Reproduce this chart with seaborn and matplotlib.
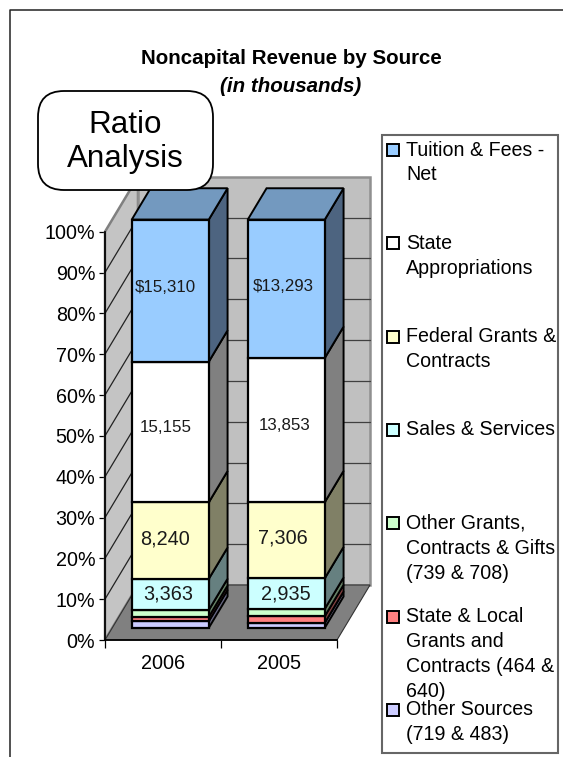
import numpy as np
import pandas as pd
import seaborn as sns
import matplotlib.pyplot as plt
from matplotlib.patches import Polygon, FancyBboxPatch, Rectangle
from matplotlib.transforms import Affine2D

years = ["2006", "2005"]
# stacked bottom to top
sources = [
    "Other Sources", "State & Local", "Other Grants", "Sales & Services",
    "Federal Grants", "State Appropriations", "Tuition & Fees",
]
other_sources = [719, 483]
state_local = [464, 640]
other_grants = [739, 708]
sales_services = [3363, 2935]
federal_grants = [8240, 7306]
state_approp = [15155, 13853]
tuition_fees = [15310, 13293]

front_colors = ["#CCCCFF", "#FF8080", "#CCFFCC", "#CCFFFF", "#FFFFCC", "#FFFFFF", "#99CCFF"]
side_colors = ["#666680", "#804040", "#668066", "#668080", "#808066", "#808080", "#4D6480"]
top_color = "#7399BF"

legend_labels = [
    "Tuition & Fees -\nNet",
    "State\nAppropriations",
    "Federal Grants &\nContracts",
    "Sales & Services",
    "Other Grants,\nContracts & Gifts\n(739 & 708)",
    "State & Local\nGrants and\nContracts (464 &\n640)",
    "Other Sources\n(719 & 483)",
]
legend_colors = ["#99CCFF", "#FFFFFF", "#FFFFCC", "#CCFFFF", "#CCFFCC", "#FF8080", "#CCCCFF"]

sns.set_theme(style="white")
plt.rcParams["font.family"] = ["Liberation Sans", "DejaVu Sans"]

W, H = 563, 757
fig = plt.figure(figsize=(W / 100, H / 100), dpi=100)

# front plane of the 3d box, in pixels
ax = fig.add_axes([105 / W, 1 - 640 / H, 232 / W, 408.3 / H])

values = np.array([other_sources, state_local, other_grants, sales_services,
                   federal_grants, state_approp, tuition_fees], dtype=float)
pct = values / values.sum(axis=0) * 100
bottoms = np.vstack([np.zeros(2), np.cumsum(pct, axis=0)[:-1]])

BOX_DX = 33 / 116    # depth of the box in x data units
BOX_DY = 55 / 4.083  # depth of the box in percent units
BAR_WIDTH = 77 / 116
BAR_FRONT = 0.22
BAR_BACK = 0.79


def depth(x, y, d):
    return x + d * BOX_DX, y + d * BOX_DY


# bars, one seaborn call per series
for i, name in enumerate(sources):
    df = pd.DataFrame({"year": years, "share": pct[i]})
    sns.barplot(df, x="year", y="share", order=years, bottom=bottoms[i], color=front_colors[i],
                saturation=1, width=BAR_WIDTH, edgecolor="black", linewidth=1.6, zorder=6, ax=ax)

# push the fronts back into the box
shift = Affine2D().translate(*depth(0, 0, BAR_FRONT)) + ax.transData
for p in ax.patches:
    p.set_transform(shift)
    p.set_clip_on(False)

ax.set_xlim(-0.5, 1.5)
ax.set_ylim(0, 100)

# walls and floor
wall_kw = dict(clip_on=False, zorder=1)
ax.add_patch(Polygon([depth(-0.5, 0, 0), depth(-0.5, 100, 0), depth(-0.5, 100, 1), depth(-0.5, 0, 1)],
                     facecolor="#C4C4C4", edgecolor="#808080", linewidth=1.8, **wall_kw))
ax.add_patch(Polygon([depth(-0.5, 0, 1), depth(-0.5, 100, 1), depth(1.5, 100, 1), depth(1.5, 0, 1)],
                     facecolor="#C0C0C0", edgecolor="#909090", linewidth=1.8, **wall_kw))
ax.add_patch(Polygon([depth(-0.5, 0, 0), depth(1.5, 0, 0), depth(1.5, 0, 1), depth(-0.5, 0, 1)],
                     facecolor="#808080", edgecolor="#333333", linewidth=0.8, clip_on=False, zorder=2))
for t in range(10, 100, 10):
    x0, y0 = depth(-0.5, t, 1)
    x1, y1 = depth(1.5, t, 1)
    ax.plot([x0, x1], [y0, y1], color="#404040", lw=0.9, clip_on=False, zorder=1.5)
for t in range(10, 100, 10):
    x0, y0 = depth(-0.5, t, 0)
    x1, y1 = depth(-0.5, t, 1)
    ax.plot([x0, x1], [y0, y1], color="#222222", lw=0.9, clip_on=False, zorder=1.5)

# sides and tops of the bars
for j in range(len(years)):
    right = j + BAR_WIDTH / 2
    left = j - BAR_WIDTH / 2
    for i in range(len(sources)):
        lo, hi = bottoms[i][j], bottoms[i][j] + pct[i][j]
        ax.add_patch(Polygon([depth(right, lo, BAR_FRONT), depth(right, hi, BAR_FRONT),
                              depth(right, hi, BAR_BACK), depth(right, lo, BAR_BACK)],
                             facecolor=side_colors[i], edgecolor="black", linewidth=1.4,
                             clip_on=False, zorder=5))
    ax.add_patch(Polygon([depth(left, 100, BAR_FRONT), depth(right, 100, BAR_FRONT),
                          depth(right, 100, BAR_BACK), depth(left, 100, BAR_BACK)],
                         facecolor=top_color, edgecolor="black", linewidth=1.4,
                         clip_on=False, zorder=5))

# axes
sns.despine(ax=ax)
ax.spines["left"].set_color("black")
ax.spines["bottom"].set_color("black")
ax.spines["left"].set_zorder(3)
ax.spines["bottom"].set_zorder(3)
ax.patch.set_alpha(0)
ax.set_xlabel("")
ax.set_ylabel("")
ax.set_yticks(range(0, 101, 10), [f"{t}%" for t in range(0, 101, 10)])
ax.set_xticks([-0.5, 0.5, 1.5], ["", "", ""])
ax.set_xticks([0, 1], years, minor=True)
ax.tick_params(axis="y", which="major", left=True, length=4, width=0.9, color="black",
               labelsize=14.2, pad=3, labelcolor="black")
ax.tick_params(axis="x", which="major", bottom=True, length=6, width=0.9, color="black")
ax.tick_params(axis="x", which="minor", bottom=False, length=0, labelsize=14.3, pad=10,
               labelcolor="black")

# data labels: series index, texts, size, nudges in points
label_sets = [
    (6, ["$15,310", "$13,293"], 12.2, [-3.5, -2.5], 2),
    (5, ["15,155", "13,853"], 12.2, [-3, -1.5], 3),
    (4, ["8,240", "7,306"], 14.3, [-3.5, -2.5], 1.5),
    (3, ["3,363", "2,935"], 14.3, [-1.5, 0], 0),
]
for i, texts, size, nudge, dy in label_sets:
    for j, s in enumerate(texts):
        x, y = depth(j, bottoms[i][j] + pct[i][j] / 2, BAR_FRONT)
        ax.annotate(s, (x, y), xytext=(nudge[j], dy), textcoords="offset points", ha="center",
                    va="center", fontsize=size, color="#1a1a1a", zorder=8,
                    annotation_clip=False)

# overlay in pixels for frame, title, callout and legend
ov = fig.add_axes([0, 0, 1, 1], zorder=10)
ov.set_xlim(0, W)
ov.set_ylim(H, 0)
ov.axis("off")
ov.plot([9.5, 9.5, W], [H, 9.5, 9.5], color="#222222", lw=1.1)

ov.text(291, 58, "Noncapital Revenue by Source", ha="center", va="center", fontsize=14.8,
        fontweight="bold", color="black")
ov.text(291, 87, "(in thousands)", ha="center", va="center", fontsize=14.8, fontweight="bold",
        fontstyle="italic", color="black")

ov.add_patch(FancyBboxPatch((62, 115), 127, 51, boxstyle="round,pad=24,rounding_size=26",
                            facecolor="white", edgecolor="black", linewidth=1.3, zorder=5))
ov.text(125, 125, "Ratio", ha="center", va="center", fontsize=22.6, color="black", zorder=6)
ov.text(125, 159, "Analysis", ha="center", va="center", fontsize=22.6, color="black", zorder=6)

ov.add_patch(Rectangle((382, 135), 176, 618, facecolor="white", edgecolor="#666666", linewidth=1.5))
for k, (lab, col) in enumerate(zip(legend_labels, legend_colors)):
    y = 150 + k * 93.3
    ov.add_patch(Rectangle((387, y - 6), 12, 12, facecolor=col, edgecolor="black", linewidth=1.4))
    for n, line in enumerate(lab.split("\n")):
        ov.text(406, y + n * 25, line, ha="left", va="center", fontsize=14.1, color="black")

fig.savefig("out.png", dpi=100)
